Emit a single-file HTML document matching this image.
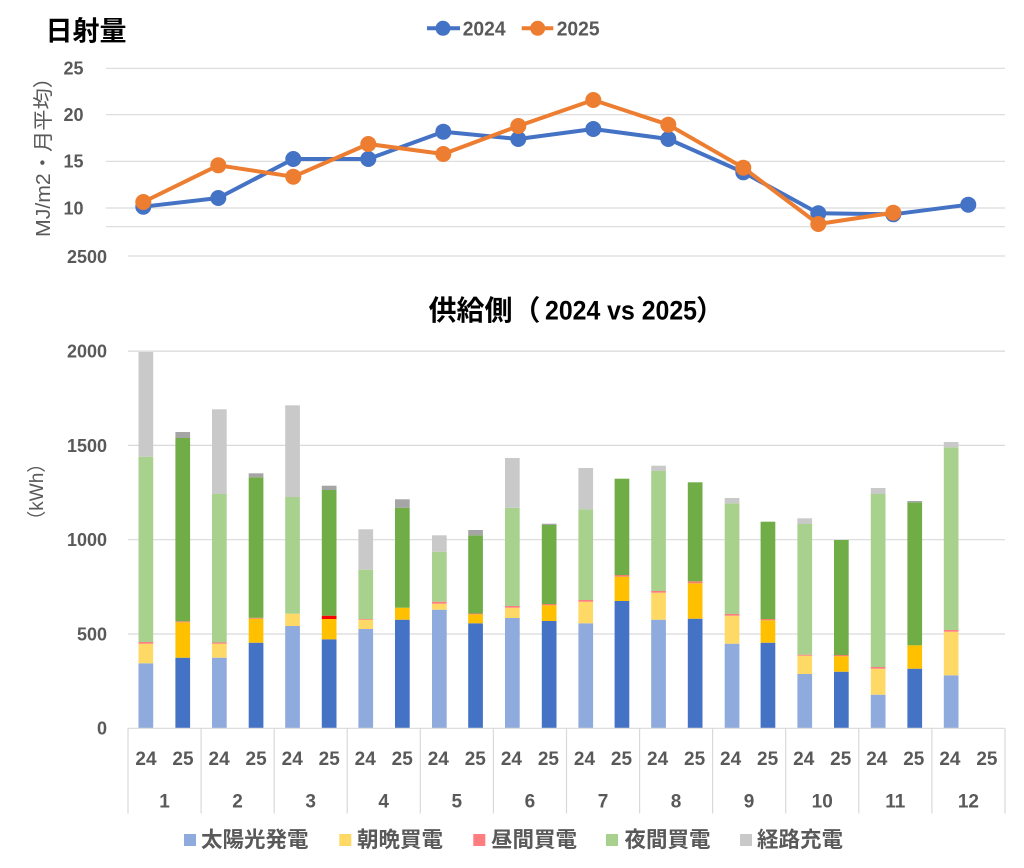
<!DOCTYPE html>
<html><head><meta charset="utf-8"><style>
html,body{margin:0;padding:0;background:#fff;}
svg{display:block;}
text{font-family:"Liberation Sans","Noto Sans CJK JP",sans-serif;}
</style></head><body>
<svg width="1024" height="868" viewBox="0 0 1024 868" xmlns="http://www.w3.org/2000/svg">
<rect width="1024" height="868" fill="#fff"/>
<!-- TOP CHART -->
<text x="45.5" y="40.5" font-size="27" font-weight="bold" fill="#000">日射量</text>
<line x1="427" y1="28.3" x2="460" y2="28.3" stroke="#4472C4" stroke-width="4"/>
<circle cx="443" cy="28.3" r="7.5" fill="#4472C4"/>
<text x="462.7" y="35.5" font-size="20" font-weight="bold" fill="#595959" textLength="43" lengthAdjust="spacingAndGlyphs">2024</text>
<line x1="521.7" y1="28.3" x2="553.3" y2="28.3" stroke="#ED7D31" stroke-width="4"/>
<circle cx="537.7" cy="28.3" r="7.5" fill="#ED7D31"/>
<text x="556.7" y="35.5" font-size="20" font-weight="bold" fill="#595959" textLength="43" lengthAdjust="spacingAndGlyphs">2025</text>
<g stroke="#D9D9D9" stroke-width="1.2">
<line x1="106" y1="68.3" x2="1005" y2="68.3"/>
<line x1="106" y1="114.7" x2="1005" y2="114.7"/>
<line x1="106" y1="161.3" x2="1005" y2="161.3"/>
<line x1="106" y1="208" x2="1005" y2="208"/>
<line x1="106" y1="226.7" x2="1005" y2="226.7"/>
<line x1="128" y1="256" x2="1005" y2="256"/>
</g>
<g font-size="18" font-weight="bold" fill="#595959" text-anchor="end">
<text x="83.5" y="74.5">25</text>
<text x="83.5" y="121">20</text>
<text x="83.5" y="167.5">15</text>
<text x="83.5" y="214.3">10</text>
<text x="107" y="263">2500</text>
</g>
<text transform="translate(50,237) rotate(-90)" x="0" y="0" font-size="20" fill="#595959" textLength="170" lengthAdjust="spacingAndGlyphs">MJ/m2・月平均）</text>
<polyline fill="none" stroke="#4472C4" stroke-width="4" stroke-linejoin="round" points="143.3,206.7 218.3,198 293.3,159 368.3,159 443.3,131.7 518.3,139 593.3,129 668.3,139 743.3,172.3 818.3,213.3 893.3,214.3 968.3,204.7"/>
<g fill="#4472C4">
<circle cx="143.3" cy="206.7" r="8"/><circle cx="218.3" cy="198" r="8"/><circle cx="293.3" cy="159" r="8"/><circle cx="368.3" cy="159" r="8"/><circle cx="443.3" cy="131.7" r="8"/><circle cx="518.3" cy="139" r="8"/><circle cx="593.3" cy="129" r="8"/><circle cx="668.3" cy="139" r="8"/><circle cx="743.3" cy="172.3" r="8"/><circle cx="818.3" cy="213.3" r="8"/><circle cx="893.3" cy="214.3" r="8"/><circle cx="968.3" cy="204.7" r="8"/>
</g>
<polyline fill="none" stroke="#ED7D31" stroke-width="4" stroke-linejoin="round" points="143.3,202 218.3,165.3 293.3,176.7 368.3,144 443.3,154 518.3,126 593.3,100 668.3,124.7 743.3,167.7 818.3,224 893.3,212.7"/>
<g fill="#ED7D31">
<circle cx="143.3" cy="202" r="8"/><circle cx="218.3" cy="165.3" r="8"/><circle cx="293.3" cy="176.7" r="8"/><circle cx="368.3" cy="144" r="8"/><circle cx="443.3" cy="154" r="8"/><circle cx="518.3" cy="126" r="8"/><circle cx="593.3" cy="100" r="8"/><circle cx="668.3" cy="124.7" r="8"/><circle cx="743.3" cy="167.7" r="8"/><circle cx="818.3" cy="224" r="8"/><circle cx="893.3" cy="212.7" r="8"/>
</g>

<!-- BOTTOM CHART -->
<text x="428.5" y="320" font-size="28" font-weight="bold" fill="#000">供給側（</text>
<text x="545" y="319.5" font-size="27" font-weight="bold" fill="#000" textLength="152" lengthAdjust="spacingAndGlyphs">2024 vs 2025</text>
<text x="696" y="320" font-size="28" font-weight="bold" fill="#000">）</text>
<g stroke="#D9D9D9" stroke-width="1.2">
<line x1="128" y1="351.1" x2="1005" y2="351.1"/>
<line x1="128" y1="445.4" x2="1005" y2="445.4"/>
<line x1="128" y1="539.7" x2="1005" y2="539.7"/>
<line x1="128" y1="634" x2="1005" y2="634"/>
</g>
<g font-size="18" font-weight="bold" fill="#595959" text-anchor="end">
<text x="107" y="357.5">2000</text>
<text x="107" y="451.8">1500</text>
<text x="107" y="546">1000</text>
<text x="107" y="640.4">500</text>
<text x="107" y="734.6">0</text>
</g>
<text transform="translate(43,491.7) rotate(-90)" x="0" y="0" font-size="19" fill="#595959" text-anchor="middle">（kWh）</text>

<g>
<!-- B1 -->
<rect x="138.5" y="663.3" width="14.7" height="65" fill="#8FAADC"/>
<rect x="138.5" y="643.7" width="14.7" height="19.6" fill="#FFD966"/>
<rect x="138.5" y="642" width="14.7" height="1.7" fill="#FF7C80"/>
<rect x="138.5" y="456.7" width="14.7" height="185.3" fill="#A9D18E"/>
<rect x="138.5" y="352" width="14.7" height="104.7" fill="#C9C9C9"/>
<!-- B2 -->
<rect x="175.4" y="657.7" width="14.7" height="70.6" fill="#4472C4"/>
<rect x="175.4" y="622.3" width="14.7" height="35.4" fill="#FFC000"/>
<rect x="175.4" y="621.3" width="14.7" height="1" fill="#F4806A"/>
<rect x="175.4" y="438" width="14.7" height="183.3" fill="#70AD47"/>
<rect x="175.4" y="432" width="14.7" height="6" fill="#A5A5A5"/>
<!-- B3 -->
<rect x="212" y="657.7" width="14.7" height="70.6" fill="#8FAADC"/>
<rect x="212" y="643.7" width="14.7" height="14" fill="#FFD966"/>
<rect x="212" y="642.5" width="14.7" height="1.2" fill="#FF7C80"/>
<rect x="212" y="494" width="14.7" height="148.5" fill="#A9D18E"/>
<rect x="212" y="409.3" width="14.7" height="84.7" fill="#C9C9C9"/>
<!-- B4 -->
<rect x="248.7" y="642.7" width="14.7" height="85.6" fill="#4472C4"/>
<rect x="248.7" y="618.7" width="14.7" height="24" fill="#FFC000"/>
<rect x="248.7" y="617.8" width="14.7" height="0.9" fill="#F4806A"/>
<rect x="248.7" y="477.3" width="14.7" height="140.5" fill="#70AD47"/>
<rect x="248.7" y="473.3" width="14.7" height="4" fill="#A5A5A5"/>
<!-- B5 -->
<rect x="285.2" y="626" width="14.7" height="102.3" fill="#8FAADC"/>
<rect x="285.2" y="613.7" width="14.7" height="12.3" fill="#FFD966"/>
<rect x="285.2" y="497" width="14.7" height="116.7" fill="#A9D18E"/>
<rect x="285.2" y="405.3" width="14.7" height="91.7" fill="#C9C9C9"/>
<!-- B6 -->
<rect x="321.8" y="639.3" width="14.7" height="89" fill="#4472C4"/>
<rect x="321.8" y="619" width="14.7" height="20.3" fill="#FFC000"/>
<rect x="321.8" y="615.7" width="14.7" height="3.3" fill="#FF0000"/>
<rect x="321.8" y="490" width="14.7" height="125.7" fill="#70AD47"/>
<rect x="321.8" y="485.7" width="14.7" height="4.3" fill="#A5A5A5"/>
<!-- B7 -->
<rect x="358.4" y="629" width="14.7" height="99.3" fill="#8FAADC"/>
<rect x="358.4" y="619.7" width="14.7" height="9.3" fill="#FFD966"/>
<rect x="358.4" y="619" width="14.7" height="0.7" fill="#FF7C80"/>
<rect x="358.4" y="569.7" width="14.7" height="49.3" fill="#A9D18E"/>
<rect x="358.4" y="529.3" width="14.7" height="40.4" fill="#C9C9C9"/>
<!-- B8 -->
<rect x="395" y="619.7" width="14.7" height="108.6" fill="#4472C4"/>
<rect x="395" y="607.7" width="14.7" height="12" fill="#FFC000"/>
<rect x="395" y="507.7" width="14.7" height="100" fill="#70AD47"/>
<rect x="395" y="499.3" width="14.7" height="8.4" fill="#A5A5A5"/>
<!-- B9 -->
<rect x="432" y="609.7" width="14.7" height="118.6" fill="#8FAADC"/>
<rect x="432" y="603.7" width="14.7" height="6" fill="#FFD966"/>
<rect x="432" y="601.7" width="14.7" height="2" fill="#FF7C80"/>
<rect x="432" y="551.7" width="14.7" height="50" fill="#A9D18E"/>
<rect x="432" y="535.3" width="14.7" height="16.4" fill="#C9C9C9"/>
<!-- B10 -->
<rect x="468.2" y="623.3" width="14.7" height="105" fill="#4472C4"/>
<rect x="468.2" y="614.3" width="14.7" height="9" fill="#FFC000"/>
<rect x="468.2" y="613.5" width="14.7" height="0.8" fill="#F4806A"/>
<rect x="468.2" y="535.3" width="14.7" height="78.2" fill="#70AD47"/>
<rect x="468.2" y="530" width="14.7" height="5.3" fill="#A5A5A5"/>
<!-- B11 -->
<rect x="505" y="618" width="14.7" height="110.3" fill="#8FAADC"/>
<rect x="505" y="607.7" width="14.7" height="10.3" fill="#FFD966"/>
<rect x="505" y="606" width="14.7" height="1.7" fill="#FF7C80"/>
<rect x="505" y="507.7" width="14.7" height="98.3" fill="#A9D18E"/>
<rect x="505" y="458" width="14.7" height="49.7" fill="#C9C9C9"/>
<!-- B12 -->
<rect x="541.8" y="621" width="14.7" height="107.3" fill="#4472C4"/>
<rect x="541.8" y="605.3" width="14.7" height="15.7" fill="#FFC000"/>
<rect x="541.8" y="604" width="14.7" height="1.3" fill="#F4806A"/>
<rect x="541.8" y="525" width="14.7" height="79" fill="#70AD47"/>
<rect x="541.8" y="523.7" width="14.7" height="1.3" fill="#A5A5A5"/>
<!-- B13 -->
<rect x="578.4" y="623.3" width="14.7" height="105" fill="#8FAADC"/>
<rect x="578.4" y="601.7" width="14.7" height="21.6" fill="#FFD966"/>
<rect x="578.4" y="600" width="14.7" height="1.7" fill="#FF7C80"/>
<rect x="578.4" y="509.3" width="14.7" height="90.7" fill="#A9D18E"/>
<rect x="578.4" y="468" width="14.7" height="41.3" fill="#C9C9C9"/>
<!-- B14 -->
<rect x="614.6" y="601" width="14.7" height="127.3" fill="#4472C4"/>
<rect x="614.6" y="576.7" width="14.7" height="24.3" fill="#FFC000"/>
<rect x="614.6" y="575" width="14.7" height="1.7" fill="#F4806A"/>
<rect x="614.6" y="478.7" width="14.7" height="96.3" fill="#70AD47"/>
<!-- B15 -->
<rect x="651.2" y="619.7" width="14.7" height="108.6" fill="#8FAADC"/>
<rect x="651.2" y="592.7" width="14.7" height="27" fill="#FFD966"/>
<rect x="651.2" y="591" width="14.7" height="1.7" fill="#FF7C80"/>
<rect x="651.2" y="471" width="14.7" height="120" fill="#A9D18E"/>
<rect x="651.2" y="465.7" width="14.7" height="5.3" fill="#C9C9C9"/>
<!-- B16 -->
<rect x="687.8" y="618.7" width="14.7" height="109.6" fill="#4472C4"/>
<rect x="687.8" y="583.3" width="14.7" height="35.4" fill="#FFC000"/>
<rect x="687.8" y="581.3" width="14.7" height="2" fill="#F4806A"/>
<rect x="687.8" y="482.3" width="14.7" height="99" fill="#70AD47"/>
<!-- B17 -->
<rect x="724.7" y="643.7" width="14.7" height="84.6" fill="#8FAADC"/>
<rect x="724.7" y="615.7" width="14.7" height="28" fill="#FFD966"/>
<rect x="724.7" y="614" width="14.7" height="1.7" fill="#FF7C80"/>
<rect x="724.7" y="503.3" width="14.7" height="110.7" fill="#A9D18E"/>
<rect x="724.7" y="498" width="14.7" height="5.3" fill="#C9C9C9"/>
<!-- B18 -->
<rect x="760.6" y="642.7" width="14.7" height="85.6" fill="#4472C4"/>
<rect x="760.6" y="620.3" width="14.7" height="22.4" fill="#FFC000"/>
<rect x="760.6" y="619" width="14.7" height="1.3" fill="#F4806A"/>
<rect x="760.6" y="521.7" width="14.7" height="97.3" fill="#70AD47"/>
<!-- B19 -->
<rect x="797.4" y="674" width="14.7" height="54.3" fill="#8FAADC"/>
<rect x="797.4" y="655.7" width="14.7" height="18.3" fill="#FFD966"/>
<rect x="797.4" y="654.7" width="14.7" height="1" fill="#FF7C80"/>
<rect x="797.4" y="524" width="14.7" height="130.7" fill="#A9D18E"/>
<rect x="797.4" y="518.3" width="14.7" height="5.7" fill="#C9C9C9"/>
<!-- B20 -->
<rect x="834" y="671.7" width="14.7" height="56.6" fill="#4472C4"/>
<rect x="834" y="656.3" width="14.7" height="15.4" fill="#FFC000"/>
<rect x="834" y="655" width="14.7" height="1.3" fill="#F4806A"/>
<rect x="834" y="540" width="14.7" height="115" fill="#70AD47"/>
<!-- B21 -->
<rect x="870.8" y="694.7" width="14.7" height="33.6" fill="#8FAADC"/>
<rect x="870.8" y="668.7" width="14.7" height="26" fill="#FFD966"/>
<rect x="870.8" y="667" width="14.7" height="1.7" fill="#FF7C80"/>
<rect x="870.8" y="494" width="14.7" height="173" fill="#A9D18E"/>
<rect x="870.8" y="488" width="14.7" height="6" fill="#C9C9C9"/>
<!-- B22 -->
<rect x="907.4" y="668.7" width="14.7" height="59.6" fill="#4472C4"/>
<rect x="907.4" y="645.3" width="14.7" height="23.4" fill="#FFC000"/>
<rect x="907.4" y="502.3" width="14.7" height="143" fill="#70AD47"/>
<rect x="907.4" y="501" width="14.7" height="1.3" fill="#A5A5A5"/>
<!-- B23 -->
<rect x="943.8" y="675.3" width="14.7" height="53" fill="#8FAADC"/>
<rect x="943.8" y="631.7" width="14.7" height="43.6" fill="#FFD966"/>
<rect x="943.8" y="630" width="14.7" height="1.7" fill="#FF7C80"/>
<rect x="943.8" y="447.3" width="14.7" height="182.7" fill="#A9D18E"/>
<rect x="943.8" y="442" width="14.7" height="5.3" fill="#C9C9C9"/>
</g>

<!-- category axis -->
<g stroke="#D9D9D9" stroke-width="1.2">
<line x1="128" y1="728.3" x2="1005" y2="728.3"/>
<line x1="128" y1="728.3" x2="128" y2="813.5"/>
<line x1="201.1" y1="728.3" x2="201.1" y2="813.5"/>
<line x1="274.2" y1="728.3" x2="274.2" y2="813.5"/>
<line x1="347.2" y1="728.3" x2="347.2" y2="813.5"/>
<line x1="420.3" y1="728.3" x2="420.3" y2="813.5"/>
<line x1="493.4" y1="728.3" x2="493.4" y2="813.5"/>
<line x1="566.5" y1="728.3" x2="566.5" y2="813.5"/>
<line x1="639.6" y1="728.3" x2="639.6" y2="813.5"/>
<line x1="712.6" y1="728.3" x2="712.6" y2="813.5"/>
<line x1="785.7" y1="728.3" x2="785.7" y2="813.5"/>
<line x1="858.8" y1="728.3" x2="858.8" y2="813.5"/>
<line x1="931.9" y1="728.3" x2="931.9" y2="813.5"/>
<line x1="1005" y1="728.3" x2="1005" y2="813.5"/>
</g>
<g font-size="19" font-weight="bold" fill="#595959" text-anchor="middle">
<text x="146" y="765">24</text><text x="183" y="765">25</text>
<text x="219.1" y="765">24</text><text x="256.1" y="765">25</text>
<text x="292.2" y="765">24</text><text x="329.2" y="765">25</text>
<text x="365.2" y="765">24</text><text x="402.2" y="765">25</text>
<text x="438.3" y="765">24</text><text x="475.3" y="765">25</text>
<text x="511.4" y="765">24</text><text x="548.4" y="765">25</text>
<text x="584.5" y="765">24</text><text x="621.5" y="765">25</text>
<text x="657.6" y="765">24</text><text x="694.6" y="765">25</text>
<text x="730.6" y="765">24</text><text x="767.6" y="765">25</text>
<text x="803.7" y="765">24</text><text x="840.7" y="765">25</text>
<text x="876.8" y="765">24</text><text x="913.8" y="765">25</text>
<text x="949.9" y="765">24</text><text x="986.9" y="765">25</text>
<text x="164.5" y="807.7">1</text>
<text x="237.6" y="807.7">2</text>
<text x="310.7" y="807.7">3</text>
<text x="383.7" y="807.7">4</text>
<text x="456.8" y="807.7">5</text>
<text x="529.9" y="807.7">6</text>
<text x="603" y="807.7">7</text>
<text x="676.1" y="807.7">8</text>
<text x="749.1" y="807.7">9</text>
<text x="822.2" y="807.7">10</text>
<text x="895.3" y="807.7">11</text>
<text x="968.4" y="807.7">12</text>
</g>

<!-- legend -->
<rect x="184" y="834" width="12" height="12" fill="#8FAADC"/>
<rect x="339.3" y="834" width="12" height="12" fill="#FFD966"/>
<rect x="473.3" y="834" width="12" height="12" fill="#FF7C80"/>
<rect x="606" y="834" width="12" height="12" fill="#A9D18E"/>
<rect x="740" y="834" width="12" height="12" fill="#C9C9C9"/>
<g font-size="21.5" font-weight="bold" fill="#595959">
<text x="201" y="847">太陽光発電</text>
<text x="357" y="847">朝晩買電</text>
<text x="491" y="847">昼間買電</text>
<text x="624.5" y="847">夜間買電</text>
<text x="757" y="847">経路充電</text>
</g>
</svg>
</body></html>
